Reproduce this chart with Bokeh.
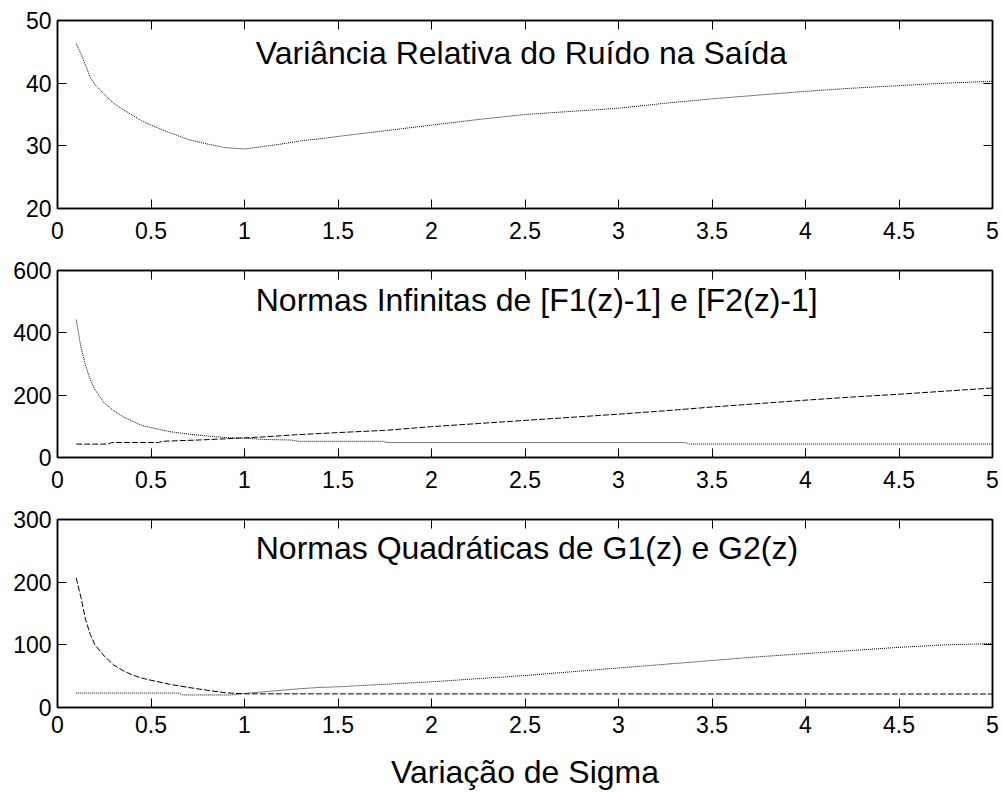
from bokeh.plotting import figure
from bokeh.models import FixedTicker, LinearAxis, Label, Range1d
from bokeh.layouts import column
from bokeh.embed import file_html
from bokeh.resources import INLINE

FONT = "Liberation Sans"

# ---------------- data ----------------
x_ticks = [0, 0.5, 1, 1.5, 2, 2.5, 3, 3.5, 4, 4.5, 5]
x_tick_labels = ["0", "0.5", "1", "1.5", "2", "2.5", "3", "3.5", "4", "4.5", "5"]

# Panel 1: Variância Relativa do Ruído na Saída
sigma_var = [0.1, 0.125, 0.15, 0.175, 0.2, 0.25, 0.3, 0.35, 0.4, 0.45, 0.5, 0.6, 0.7,
             0.8, 0.9, 1.0, 1.1, 1.2, 1.3, 1.4, 1.5, 1.75, 2.0, 2.25, 2.5, 2.75,
             3.0, 3.25, 3.5, 3.75, 4.0, 4.25, 4.5, 4.75, 5.0]
variancia = [46.3, 44.7, 42.9, 40.9, 39.8, 38.2, 36.8, 35.8, 34.9, 34.0, 33.3, 32.1, 31.0,
             30.3, 29.7, 29.5, 29.9, 30.3, 30.8, 31.1, 31.5, 32.4, 33.3, 34.2, 35.0, 35.5,
             36.0, 36.8, 37.5, 38.1, 38.7, 39.2, 39.6, 40.0, 40.3]
var_yticks = [20, 30, 40, 50]

# Panel 2: Normas Infinitas
sigma_f1 = [0.1, 0.125, 0.15, 0.175, 0.2, 0.25, 0.3, 0.35, 0.4, 0.45, 0.5, 0.6, 0.7,
            0.8, 0.9, 1.0, 1.1, 1.25, 1.29, 1.74, 1.76, 3.36, 3.38, 5.0]
norma_inf_f1 = [442, 355, 295, 250, 218, 175, 150, 131, 117, 103, 96, 83, 75,
                69, 64, 62, 58, 56, 52, 52, 48, 48, 43, 43]
sigma_f2 = [0.1, 0.27, 0.29, 0.54, 0.56, 0.75, 0.9, 1.0, 1.1, 1.25, 1.5, 1.75, 2.0,
            2.25, 2.5, 2.75, 3.0, 3.25, 3.5, 3.75, 4.0, 4.25, 4.5, 4.75, 5.0]
norma_inf_f2 = [43, 43, 48, 48, 52, 56, 60, 63, 66, 72, 80, 87, 99,
                109, 119, 129, 139, 150, 162, 173, 184, 194, 203, 213, 223]
inf_yticks = [0, 200, 400, 600]

# Panel 3: Normas Quadráticas
sigma_g1 = [0.1, 0.125, 0.15, 0.175, 0.2, 0.25, 0.3, 0.35, 0.4, 0.45, 0.5, 0.6, 0.7,
            0.8, 0.9, 1.0, 5.0]
norma_quad_g1 = [207, 176, 140, 117, 100, 82, 68, 59, 52, 47, 43.5, 37, 32,
                 27.5, 23.5, 21.8, 21.5]
sigma_g2 = [0.1, 0.65, 0.67, 0.93, 1.0, 1.1, 1.2, 1.3, 1.4, 1.5, 1.75, 2.0, 2.25,
            2.5, 2.75, 3.0, 3.25, 3.5, 3.75, 4.0, 4.25, 4.5, 4.75, 5.0]
norma_quad_g2 = [23, 23, 20, 20, 22.5, 25, 27.5, 30, 32, 33, 37, 41, 46,
                 51, 57, 63, 69, 75, 81, 86, 91, 96, 100, 102]
quad_yticks = [0, 100, 200, 300]

titles = ["Variância Relativa do Ruído na Saída",
          "Normas Infinitas de [F1(z)-1] e [F2(z)-1]",
          "Normas Quadráticas de G1(z) e G2(z)"]
x_label = "Variação de Sigma"

# ---------------- styling helpers ----------------
x_overrides = {t: s for t, s in zip(x_ticks, x_tick_labels)}


def style_axis(ax, ticks, overrides=None, labels=True):
    ax.ticker = FixedTicker(ticks=ticks)
    if overrides:
        ax.major_label_overrides = overrides
    ax.minor_tick_line_color = None
    ax.major_tick_in = 9
    ax.major_tick_out = 0
    ax.major_tick_line_color = "black"
    ax.major_tick_line_width = 1
    ax.axis_line_color = "black"
    ax.axis_line_width = 1.5
    ax.major_label_text_font = FONT
    if labels:
        ax.major_label_text_color = "black"
        ax.major_label_text_font_size = "23px"
    else:
        ax.major_label_text_color = None
        ax.major_label_text_font_size = "1px"
        ax.major_label_standoff = 0


def make_panel(ymin, ymax, yticks, top, bottom, fh, xstand):
    p = figure(output_backend="svg", toolbar_location=None,
               frame_width=935, frame_height=fh,
               x_range=Range1d(0, 5), y_range=Range1d(ymin, ymax),
               min_border_left=57, min_border_right=8,
               min_border_top=top, min_border_bottom=bottom,
               background_fill_color="white", border_fill_color="white")
    p.xgrid.visible = False
    p.ygrid.visible = False
    p.outline_line_color = "black"
    p.outline_line_width = 1.5
    style_axis(p.below[0], x_ticks, x_overrides)
    p.below[0].major_label_standoff = xstand
    style_axis(p.left[0], yticks)
    p.left[0].major_label_standoff = 6
    ax_top = LinearAxis()
    style_axis(ax_top, x_ticks, labels=False)
    p.add_layout(ax_top, "above")
    ax_right = LinearAxis()
    style_axis(ax_right, yticks, labels=False)
    p.add_layout(ax_right, "right")
    return p


def add_title(p, text, y):
    p.add_layout(Label(x=1.06, y=y, text=text, text_font=FONT,
                       text_font_size="32px", text_color="black",
                       text_align="left", text_baseline="alphabetic"))


p1 = make_panel(20, 50, var_yticks, 20, 46, 188, 13)
p1.line(sigma_var, variancia, line_color="black", line_width=1, line_dash="1 1")
add_title(p1, titles[0], 44.8)

p2 = make_panel(0, 600, inf_yticks, 16, 46, 187, 13)
p2.line(sigma_f1, norma_inf_f1, line_color="black", line_width=1, line_dash="1 1")
p2.line(sigma_f2, norma_inf_f2, line_color="black", line_width=1, line_dash="6 2")
add_title(p2, titles[1], 505)

p3 = make_panel(0, 300, quad_yticks, 16, 85, 188, 8)
p3.line(sigma_g1, norma_quad_g1, line_color="black", line_width=1, line_dash="6 2")
p3.line(sigma_g2, norma_quad_g2, line_color="black", line_width=1, line_dash="1 1")
add_title(p3, titles[2], 254.5)
xb = p3.below[0]
xb.axis_label = x_label
xb.axis_label_text_font = FONT
xb.axis_label_text_font_size = "32px"
xb.axis_label_text_font_style = "normal"
xb.axis_label_text_color = "black"
xb.axis_label_standoff = 18

layout = column(p1, p2, p3, spacing=0)

open("out.html", "w").write(file_html(layout, INLINE))
